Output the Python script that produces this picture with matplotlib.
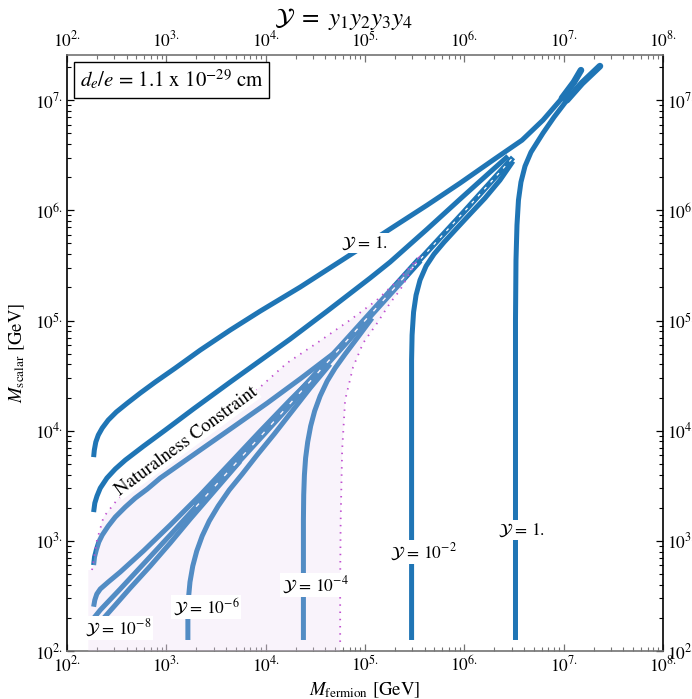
import numpy as np
import matplotlib
matplotlib.use('Agg')
import matplotlib.pyplot as plt
from matplotlib.ticker import FixedLocator, LogLocator, NullFormatter

plt.rcParams['font.family'] = ['STIXGeneral', 'DejaVu Serif']
plt.rcParams['mathtext.fontset'] = 'stix'

# ---------------- data (log10 of GeV) ----------------
# Y = 1
y1_up_lmf = [2.268, 2.275, 2.290, 2.315, 2.355, 2.415, 2.496, 2.607, 2.737, 2.888, 3.090, 3.341, 3.643, 3.945, 4.347, 4.800, 5.082, 5.283, 5.625, 5.957, 6.289, 6.581, 6.792, 6.983, 7.103, 7.174]
y1_up_lms = [3.760, 3.824, 3.897, 3.960, 4.024, 4.096, 4.169, 4.250, 4.341, 4.441, 4.568, 4.731, 4.913, 5.085, 5.303, 5.566, 5.730, 5.848, 6.047, 6.247, 6.456, 6.637, 6.819, 7.018, 7.163, 7.272]
y1_lo_lmf = [6.515, 6.515, 6.520, 6.530, 6.545, 6.570, 6.611, 6.671, 6.792, 6.903, 7.033, 7.184, 7.365]
y1_lo_lms = [2.100, 5.004, 5.548, 5.866, 6.093, 6.256, 6.401, 6.528, 6.701, 6.846, 7.000, 7.154, 7.309]
# Y = 1e-2
y2_up_lmf = [2.268, 2.280, 2.302, 2.335, 2.402, 2.486, 2.587, 2.771, 2.989, 3.271, 3.643, 4.246, 4.619, 5.051, 5.252, 5.625, 5.957, 6.259, 6.440]
y2_up_lms = [3.261, 3.343, 3.407, 3.479, 3.570, 3.652, 3.733, 3.860, 4.005, 4.196, 4.441, 4.831, 5.085, 5.385, 5.530, 5.829, 6.102, 6.347, 6.492]
y2_lo_lmf = [5.469, 5.469, 5.474, 5.489, 5.514, 5.554, 5.615, 5.695, 5.796, 5.916, 6.057, 6.208, 6.359, 6.490]
y2_lo_lms = [2.100, 4.641, 4.868, 5.076, 5.230, 5.367, 5.494, 5.603, 5.711, 5.829, 5.966, 6.111, 6.274, 6.446]
# Y = 1e-4
y4_up_lmf = [2.268, 2.277, 2.295, 2.320, 2.355, 2.415, 2.486, 2.587, 2.687, 2.808, 2.939, 3.140, 3.341, 3.676, 4.012, 4.347, 4.682, 4.900, 5.060]
y4_up_lms = [2.780, 2.853, 2.917, 2.989, 3.053, 3.134, 3.216, 3.307, 3.388, 3.470, 3.570, 3.697, 3.824, 4.035, 4.248, 4.470, 4.700, 4.895, 5.050]
y4_lo_lmf = [4.380, 4.380, 4.383, 4.390, 4.402, 4.423, 4.453, 4.493, 4.548, 4.619, 4.699, 4.800, 4.921, 5.071]
y4_lo_lms = [2.100, 3.189, 3.416, 3.597, 3.751, 3.897, 4.042, 4.178, 4.314, 4.450, 4.568, 4.695, 4.840, 5.022]
# Y = 1e-6
y6_up_lmf = [2.268, 2.280, 2.300, 2.335, 2.415, 2.536, 2.768, 3.039, 3.341, 3.643, 3.945, 4.246, 4.548]
y6_up_lms = [2.402, 2.463, 2.517, 2.563, 2.626, 2.717, 2.907, 3.143, 3.416, 3.706, 3.996, 4.278, 4.550]
y6_lo_lmf = [3.217, 3.217, 3.223, 3.238, 3.266, 3.306, 3.361, 3.432, 3.522, 3.633, 3.764, 3.914, 4.086, 4.267, 4.448, 4.649]
y6_lo_lms = [2.100, 2.327, 2.481, 2.626, 2.771, 2.907, 3.044, 3.180, 3.316, 3.461, 3.606, 3.779, 3.969, 4.178, 4.387, 4.604]
# Y = 1e-8
y8_up_lmf = [2.268, 2.335, 2.536, 2.788, 3.039, 3.341]
y8_up_lms = [2.297, 2.372, 2.563, 2.808, 3.053, 3.352]
y8_lo_lmf = [2.368, 2.486, 2.637, 2.838, 3.039, 3.240, 3.492, 3.744]
y8_lo_lms = [2.297, 2.417, 2.572, 2.771, 2.980, 3.198, 3.461, 3.724]
# merged contours along M_scalar ~ M_fermion (inside / outside the natural region)
bundle_in_lmf = [3.30, 4.00, 5.00, 5.55]
bundle_in_lms = [3.31, 4.00, 5.00, 5.55]
bundle_out_lmf = [5.50, 6.00, 6.49]
bundle_out_lms = [5.50, 5.99, 6.48]

# naturalness constraint boundary
nat_top_lmf = [2.252, 2.302, 2.368, 2.503, 2.838, 3.341, 3.945, 4.213, 4.515, 4.850, 5.119, 5.323, 5.554]
nat_top_lms = [2.735, 3.007, 3.216, 3.370, 3.642, 4.005, 4.396, 4.613, 4.795, 5.004, 5.185, 5.358, 5.584]
nat_right_lmf = [5.554, 5.484, 5.353, 5.252, 5.122, 4.981, 4.880, 4.800, 4.770, 4.755, 4.750, 4.750]
nat_right_lms = [5.584, 5.485, 5.276, 5.158, 4.976, 4.795, 4.577, 4.278, 3.824, 3.189, 2.617, 2.073]
nat_left_lmf = 2.214

# contour labels: (text, log Mf, log Ms)
labels = [
    (r'$\mathcal{Y}$ = 1.', 4.991, 5.702),
    (r'$\mathcal{Y}$ = 10$^{-2}$', 5.585, 2.898),
    (r'$\mathcal{Y}$ = 1.', 6.570, 3.098),
    (r'$\mathcal{Y}$ = 10$^{-4}$', 4.498, 2.599),
    (r'$\mathcal{Y}$ = 10$^{-6}$', 3.401, 2.399),
    (r'$\mathcal{Y}$ = 10$^{-8}$', 2.516, 2.209),
]
x_decades = [2, 3, 4, 5, 6, 7, 8]
y_decades = [2, 3, 4, 5, 6, 7]

# ---------------- figure ----------------
W, H = 692, 699
fig = plt.figure(figsize=(W / 100, H / 100), dpi=100)
ax = fig.add_axes([67 / W, 48 / H, 596 / W, 596 / H])
ax.set_xscale('log')
ax.set_yscale('log')
ax.set_xlim(1e2, 1e8)
ax.set_ylim(1e2, 10 ** 7.41)

DARK = '#1f75b5'
LW = 3.6

def P(lmf, lms):
    return 10 ** np.asarray(lmf, float), 10 ** np.asarray(lms, float)

curves = [(y1_up_lmf, y1_up_lms), (y1_lo_lmf, y1_lo_lms),
          (y2_up_lmf, y2_up_lms), (y2_lo_lmf, y2_lo_lms),
          (y4_up_lmf, y4_up_lms), (y4_lo_lmf, y4_lo_lms),
          (y6_up_lmf, y6_up_lms), (y6_lo_lmf, y6_lo_lms),
          (y8_up_lmf, y8_up_lms), (y8_lo_lmf, y8_lo_lms)]
for lmf, lms in curves:
    xx, yy = P(lmf, lms)
    ax.plot(xx, yy, color=DARK, lw=LW, solid_capstyle='butt', solid_joinstyle='round', zorder=2)

# ragged ends near the convergence points
for lmf, lms in [(y1_up_lmf, y1_up_lms), (y1_lo_lmf, y1_lo_lms)]:
    xx, yy = P(lmf[-3:], lms[-3:])
    ax.plot(xx, yy, color=DARK, lw=4.8, solid_capstyle='round', zorder=2)

bx, by = P(bundle_in_lmf, bundle_in_lms)
ax.plot(bx, by, color=DARK, lw=5.5, solid_capstyle='butt', zorder=2)
ax.plot(bx, by, color='white', lw=1.0, dashes=(3, 7), zorder=2.2)
bx, by = P(bundle_out_lmf, bundle_out_lms)
ax.plot(bx, by, color=DARK, lw=4.0, solid_capstyle='butt', zorder=2)
ax.plot(bx, by, color='white', lw=0.9, dashes=(2.5, 5), zorder=2.2)

# naturalness region (drawn over the lines, semi-transparent)
tx, ty = P(nat_top_lmf, nat_top_lms)
rx, ry = P(nat_right_lmf, nat_right_lms)
poly_x = np.concatenate([[10 ** nat_left_lmf, 10 ** nat_left_lmf], tx, rx[1:], [rx[-1]]])
poly_y = np.concatenate([[1e2, ty[0]], ty, ry[1:], [1e2]])
ax.fill(poly_x, poly_y, color=(0.92, 0.82, 0.95), alpha=0.25, lw=0, zorder=3)
ax.plot(tx, ty, color='#c050d0', lw=1.3, ls=(0, (0.8, 3.2)), zorder=4)
ax.plot(rx, ry, color='#c050d0', lw=1.3, ls=(0, (0.8, 3.2)), zorder=4)

for s, lx, ly in labels:
    ax.text(10 ** lx, 10 ** ly, s, ha='center', va='center', fontsize=12.5,
            bbox=dict(fc='white', ec='none', pad=1.0), zorder=6)

ax.text(10 ** 3.20, 10 ** 3.906, 'Naturalness Constraint', rotation=36.4,
        rotation_mode='anchor', ha='center', va='center', fontsize=13.5,
        bbox=dict(fc='white', ec='none', pad=0.5), zorder=6)

ax.text(0.021, 0.978, r'$d_e/e$ = 1.1 x 10$^{-29}$ cm', transform=ax.transAxes,
        ha='left', va='top', fontsize=15,
        bbox=dict(boxstyle='square,pad=0.28', fc='white', ec='black', lw=1.0), zorder=7)

# ticks
ax.xaxis.set_major_locator(FixedLocator([10.0 ** k for k in x_decades]))
ax.yaxis.set_major_locator(FixedLocator([10.0 ** k for k in y_decades]))
ax.set_xticklabels([r'$10^{%d.}$' % k for k in x_decades])
ax.set_yticklabels([r'$10^{%d.}$' % k for k in y_decades])
ax.xaxis.set_minor_locator(LogLocator(base=10, subs=np.arange(2, 10), numticks=20))
ax.yaxis.set_minor_locator(LogLocator(base=10, subs=np.arange(2, 10), numticks=20))
ax.xaxis.set_minor_formatter(NullFormatter())
ax.yaxis.set_minor_formatter(NullFormatter())
ax.tick_params(which='both', direction='in', top=True, right=True,
               labeltop=True, labelright=True, labelsize=12.5, pad=3)
ax.tick_params(which='major', length=5, width=0.9)
ax.tick_params(which='minor', length=3, width=0.8)
ax.tick_params(axis='x', which='both', color='0.45')
for side in ['top', 'bottom']:
    ax.spines[side].set_color('0.45')
    ax.spines[side].set_linewidth(1.2)
for side in ['left', 'right']:
    ax.spines[side].set_color('black')
    ax.spines[side].set_linewidth(1.2)

ax.set_xlabel(r'$M_{\mathrm{fermion}}$ [GeV]', fontsize=13.5, labelpad=4)
ax.set_ylabel(r'$M_{\mathrm{scalar}}$ [GeV]', fontsize=13.5, labelpad=6)
fig.text(343 / W, 1 - 19 / H, r'$\mathcal{Y}\ =\ y_1 y_2 y_3 y_4$', ha='center', va='center', fontsize=18)

fig.savefig('out.png', dpi=100)
